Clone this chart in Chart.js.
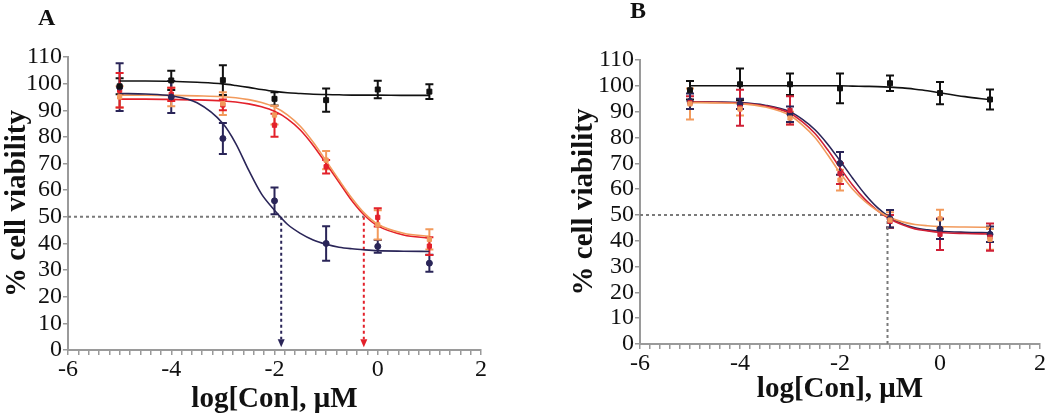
<!DOCTYPE html>
<html>
<head>
<meta charset="utf-8">
<script src="https://cdn.jsdelivr.net/npm/chart.js@4.4.0/dist/chart.umd.min.js"></script>
<style>
    body { margin: 0; background: #fff; width: 1050px; height: 420px; position: relative; overflow: hidden; }
    .panel { position: absolute; top: 0; }
    .tag { position: absolute; font: bold 24px "Liberation Serif", serif; line-height: 1; color: #111; }
</style>
</head>
<body>
<div class="panel" style="left:0"><canvas id="chartA" width="520" height="420"></canvas></div>
<div class="panel" style="left:520px"><canvas id="chartB" width="530" height="420"></canvas></div>
<div class="tag" style="left:38px;top:5px">A</div>
<div class="tag" style="left:630px;top:-2px">B</div>
<script>
// doses (log µM) where measurements were taken
const doses = [-5, -4, -3, -2, -1, 0, 1];
const curveX = [-5, -4.5, -4, -3.5, -3, -2.75, -2.5, -2.25, -2, -1.75, -1.5, -1.25, -1, -0.75, -0.5, -0.25, 0, 0.5, 1];

// panel A - measured means and SD
const aBlackMean = [99, 101.2, 101.3, 94.3, 93.8, 97.8, 97];
const aBlackErr = [3, 3.6, 5.6, 2.5, 4.4, 3.3, 2.8];
const aNavyMean = [98.7, 95, 79.4, 56, 40, 38.9, 32.6];
const aNavyErr = [9, 6, 5.8, 5, 6.5, 2.4, 3.2];
const aRedMean = [97.5, 96, 92, 84.4, 68.8, 49.8, 39];
const aRedErr = [6.5, 2.5, 2, 4.3, 2.5, 3.4, 3.3];
const aOrangeMean = [95, 95, 92.5, 88.2, 71.3, 47, 41.5];
const aOrangeErr = [4, 3.5, 4.3, 3.5, 3.4, 5.5, 3.8];

// panel A - fitted curves
const aBlackFit = [101, 101, 100.9, 100.5, 99.9, 99.3, 98.6, 97.8, 97.1, 96.6, 96.3, 96.0, 95.9, 95.8, 95.7, 95.7, 95.7, 95.6, 95.6];
const aNavyFit = [96.3, 96.1, 95.4, 92.8, 85, 77.5, 67.5, 58.5, 52.5, 47.2, 43.8, 41.3, 39.7, 38.6, 38, 37.6, 37.3, 37.1, 37];
const aRedFit = [94.2, 94.2, 94.1, 93.9, 93.5, 93.1, 92.4, 91.3, 89.6, 86.8, 82.6, 76.8, 70, 63, 56, 50.4, 46.6, 43.2, 42];
const aOrangeFit = [95.7, 95.7, 95.6, 95.4, 95.1, 94.7, 94.0, 92.9, 91.2, 88.3, 84, 78, 71, 63.8, 57, 51.2, 47.2, 43.8, 42.7];

// panel B - measured means and SD
const bBlackMean = [98.3, 100.6, 100.6, 99, 101, 97.2, 94.7];
const bBlackErr = [3.6, 6.1, 4.2, 5.8, 3, 4.3, 3.9];
const bNavyMean = [94, 93, 89, 70, 48.5, 44.5, 42.5];
const bNavyErr = [3, 2, 3, 4.4, 3.4, 3.8, 3];
const bRedMean = [93.5, 91.5, 90.5, 66, 47.5, 42.5, 41.4];
const bRedErr = [2.5, 7, 5.5, 4, 2.5, 6.1, 5.3];
const bOrangeMean = [93, 91, 87.5, 63.5, 48, 48.5, 40.5];
const bOrangeErr = [6, 2.5, 2.5, 4, 3, 3.5, 4];

// panel B - fitted curves
const bBlackFit = [100, 100, 100, 100, 100, 100, 100, 100, 100, 99.9, 99.8, 99.7, 99.5, 99.2, 98.7, 98.1, 97.3, 95.8, 94.6];
const bNavyFit = [93.8, 93.7, 93.5, 92.5, 90, 87, 83, 77.5, 71, 64.3, 58, 52.8, 49, 46.5, 45, 44.2, 43.7, 43.3, 43.1];
const bRedFit = [93.8, 93.6, 93.3, 92.2, 89.4, 86, 81.5, 75.3, 68.3, 61.6, 56, 51.7, 48.4, 46.2, 44.6, 43.8, 43.2, 42.8, 42.6];
const bOrangeFit = [93.5, 93.4, 93.1, 91.8, 88.5, 84.8, 80, 73.4, 66.3, 60, 55.2, 51.6, 49, 47.3, 46.3, 45.8, 45.5, 45.3, 45.2];

// IC50 guide lines
const halfLevel = 50;
const aIc50Navy = -1.87;
const aIc50Red = -0.27;
const bIc50 = -1.05;

const BLACK = "#111111";
const NAVY = "#2a2558";
const RED = "#e3202a";
const CRIMSON = "#cf2036";
const ORANGE = "#f29a5c";
const GUIDE = "#7a7a7a";
const AXIS = "#9a9a9a";
const SERIF = "'Liberation Serif', 'Times New Roman', serif";

const errorBars = {
    id: "errorBars",
    beforeDatasetsDraw(chart) {
        const { ctx, scales: { x, y } } = chart;
        ctx.save();
        chart.data.datasets.forEach((ds) => {
            if (!ds.errors) return;
            ctx.strokeStyle = ds.borderColor;
            ctx.lineWidth = 2;
            ds.data.forEach((p, j) => {
                const px = x.getPixelForValue(p.x);
                const top = y.getPixelForValue(p.y + ds.errors[j]);
                const bot = y.getPixelForValue(p.y - ds.errors[j]);
                ctx.beginPath();
                ctx.moveTo(px, top);
                ctx.lineTo(px, bot);
                ctx.moveTo(px - 4, top);
                ctx.lineTo(px + 4, top);
                ctx.moveTo(px - 4, bot);
                ctx.lineTo(px + 4, bot);
                ctx.stroke();
            });
        });
        ctx.restore();
    },
};

// arrow heads at the bottom end of the IC50 drop lines
const arrowHeads = {
    id: "arrowHeads",
    afterDatasetsDraw(chart) {
        const { ctx, scales: { x, y } } = chart;
        ctx.save();
        chart.data.datasets.forEach((ds) => {
            if (!ds.arrow) return;
            const end = ds.data[ds.data.length - 1];
            const px = x.getPixelForValue(end.x);
            const py = y.getPixelForValue(end.y);
            ctx.fillStyle = ds.borderColor;
            ctx.beginPath();
            ctx.moveTo(px - 3.5, py);
            ctx.lineTo(px + 3.5, py);
            ctx.lineTo(px, py + 8);
            ctx.closePath();
            ctx.fill();
        });
        ctx.restore();
    },
};

function pts(xs, ys) {
    return xs.map((x, i) => ({ x, y: ys[i] }));
}

function markers(mean, err, color, style, radius) {
    return {
        type: "scatter",
        data: pts(doses, mean),
        errors: err,
        borderColor: color,
        backgroundColor: color,
        pointStyle: style,
        pointRadius: radius,
        pointBorderWidth: 1,
        showLine: false,
        order: 0,
    };
}

function fit(vals, color) {
    return {
        type: "line",
        data: pts(curveX, vals),
        borderColor: color,
        borderWidth: 1.6,
        pointRadius: 0,
        cubicInterpolationMode: "monotone",
        fill: false,
        order: 1,
    };
}

function guide(data, color, arrow) {
    return {
        type: "line",
        data,
        borderColor: color,
        borderWidth: 2,
        borderDash: [3, 3],
        pointRadius: 0,
        fill: false,
        arrow,
        order: 2,
    };
}

function buildPanel(id, datasets, layout, yWidth, xHeight, xPad) {
    return new Chart(document.getElementById(id), {
        type: "scatter",
        data: { datasets },
        options: {
            responsive: false,
            animation: false,
            layout: { padding: layout },
            plugins: { legend: { display: false }, tooltip: { enabled: false } },
            scales: {
                x: {
                    type: "linear",
                    min: -6,
                    max: 2,
                    border: { color: AXIS, width: 2 },
                    grid: { drawOnChartArea: false, drawTicks: true, tickLength: 5, color: AXIS, lineWidth: 1.5 },
                    ticks: {
                        stepSize: 0.2,
                        autoSkip: false,
                        maxTicksLimit: 100,
                        maxRotation: 0,
                        padding: xPad,
                        color: "#111",
                        font: { family: SERIF, size: 24 },
                        callback: (v) => {
                            const r = Math.round(v);
                            return Math.abs(v - r) < 1e-6 && r % 2 === 0 ? String(r) : "";
                        },
                    },
                    title: {
                        display: true,
                        text: "log[Con], μM",
                        color: "#111",
                        font: { family: SERIF, size: 29, weight: "bold" },
                        padding: { top: 0, bottom: 0 },
                    },
                    afterFit: (s) => { s.height = xHeight; },
                },
                y: {
                    min: 0,
                    max: 110,
                    border: { color: AXIS, width: 2 },
                    grid: { drawOnChartArea: false, drawTicks: true, tickLength: 5, color: AXIS, lineWidth: 1.5 },
                    ticks: {
                        stepSize: 10,
                        autoSkip: false,
                        maxTicksLimit: 100,
                        padding: 1,
                        color: "#111",
                        font: { family: SERIF, size: 24 },
                    },
                    title: {
                        display: true,
                        text: "% cell viability",
                        color: "#111",
                        font: { family: SERIF, size: 29, weight: "bold" },
                        padding: { top: 0, bottom: 0 },
                    },
                    afterFit: (s) => { s.width = yWidth; },
                },
            },
        },
        plugins: [errorBars, arrowHeads],
    });
}

buildPanel("chartA", [
    markers(aBlackMean, aBlackErr, BLACK, "rect", 3.5),
    markers(aNavyMean, aNavyErr, NAVY, "circle", 3),
    markers(aOrangeMean, aOrangeErr, ORANGE, "rect", 3),
    markers(aRedMean, aRedErr, RED, "rect", 3),
    fit(aBlackFit, BLACK),
    fit(aNavyFit, NAVY),
    fit(aOrangeFit, ORANGE),
    fit(aRedFit, RED),
    guide([{ x: -6, y: halfLevel }, { x: aIc50Red, y: halfLevel }], GUIDE, false),
    guide([{ x: aIc50Navy, y: halfLevel }, { x: aIc50Navy, y: 4 }], NAVY, true),
    guide([{ x: aIc50Red, y: halfLevel }, { x: aIc50Red, y: 4 }], RED, true),
], { left: 0, right: 39, top: 57, bottom: 3 }, 68, 67, 0);

buildPanel("chartB", [
    markers(bBlackMean, bBlackErr, BLACK, "rect", 3.5),
    markers(bOrangeMean, bOrangeErr, ORANGE, "rect", 3),
    markers(bRedMean, bRedErr, CRIMSON, "rect", 3),
    markers(bNavyMean, bNavyErr, NAVY, "circle", 3),
    fit(bBlackFit, BLACK),
    fit(bOrangeFit, ORANGE),
    fit(bRedFit, CRIMSON),
    fit(bNavyFit, NAVY),
    guide([{ x: -6, y: halfLevel }, { x: bIc50, y: halfLevel }], GUIDE, false),
    guide([{ x: bIc50, y: halfLevel }, { x: bIc50, y: 0 }], GUIDE, false),
], { left: 47, right: 10, top: 60, bottom: 13 }, 73, 63, 0);
</script>
</body>
</html>
